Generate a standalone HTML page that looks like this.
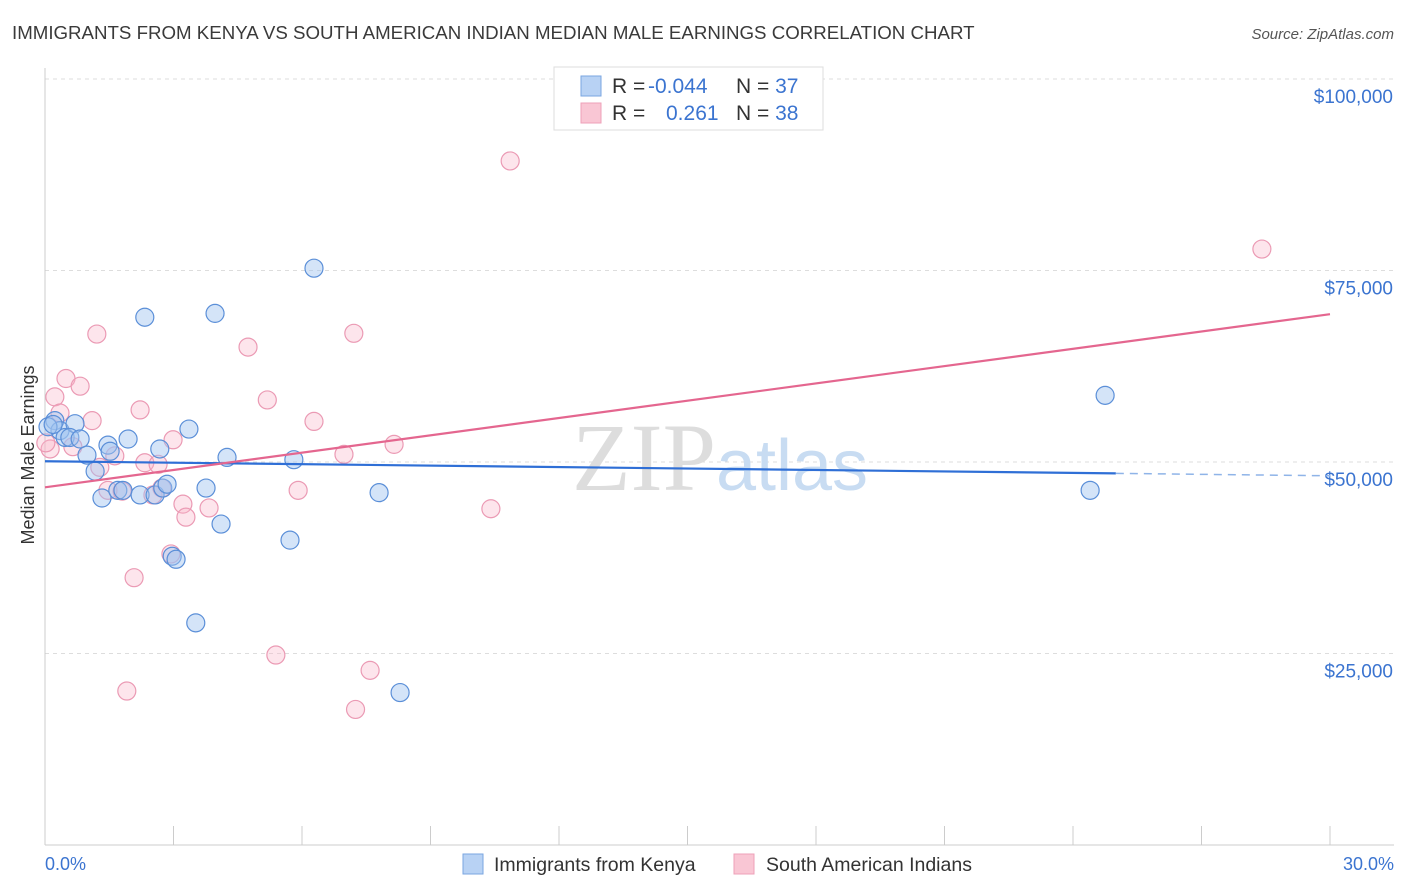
<!DOCTYPE html>
<html><head><meta charset="utf-8"><style>
body{margin:0;background:#fff;font-family:"Liberation Sans",sans-serif}
svg{display:block}
</style></head><body>
<svg width="1406" height="892">
<text x="12" y="39" font-size="18.7" fill="#3a3a3a">IMMIGRANTS FROM KENYA VS SOUTH AMERICAN INDIAN MEDIAN MALE EARNINGS CORRELATION CHART</text>
<text x="1394" y="39" font-size="15" fill="#555" font-style="italic" text-anchor="end">Source: ZipAtlas.com</text>
<g id="grid"></g>
<text x="720" y="490" font-size="96" fill="#ddd" text-anchor="middle" font-family="Liberation Serif,serif">ZIP<tspan fill="#c8dcf2" font-family="Liberation Sans,sans-serif" font-size="72">atlas</tspan></text>
<text transform="translate(34,455) rotate(-90)" font-size="18" fill="#333" text-anchor="middle">Median Male Earnings</text>
<text x="45" y="870" font-size="18" fill="#3b74d0">0.0%</text>
<text x="1394" y="870" font-size="18" fill="#3b74d0" text-anchor="end">30.0%</text>
<g id="pts"></g>
<g id="lines"></g>
<g>
<rect x="554" y="67" width="269" height="63" fill="#fff" stroke="#ddd"/>
<rect x="581" y="76" width="20" height="20" fill="#b8d2f4" stroke="#7aa6e0"/>
<rect x="581" y="103" width="20" height="20" fill="#f9c6d4" stroke="#eea0b8"/>
<text x="612" y="93" font-size="21" fill="#333">R = <tspan x="648" fill="#3b74d0">-0.044</tspan><tspan x="736">N = </tspan><tspan fill="#3b74d0">37</tspan></text>
<text x="612" y="120" font-size="21" fill="#333">R = <tspan x="666" fill="#3b74d0">0.261</tspan><tspan x="736">N = </tspan><tspan fill="#3b74d0">38</tspan></text>
</g>
<g>
<rect x="463" y="854" width="20" height="20" fill="#b8d2f4" stroke="#7aa6e0"/>
<text x="494" y="871" font-size="19.5" fill="#333">Immigrants from Kenya</text>
<rect x="734" y="854" width="20" height="20" fill="#f9c6d4" stroke="#eea0b8"/>
<text x="766" y="871" font-size="19.5" fill="#333">South American Indians</text>
</g>
</svg>
<script>
const yTicks=[25000,50000,75000,100000];
const yTickLabels=["$25,000","$50,000","$75,000","$100,000"];
const xTicks=[0,3,6,9,12,15,18,21,24,27,30];
const kenyaX=[0.23,0.35,0.47,0.7,0.58,0.82,0.98,1.17,1.33,1.47,1.52,1.7,1.82,1.94,2.22,2.33,2.57,2.68,2.75,2.85,2.97,3.06,3.36,3.52,3.76,3.97,4.11,4.25,5.72,5.81,6.28,7.8,8.29,24.4,24.75,0.07,0.19];
const kenyaY=[55400,54100,53200,55000,53200,53000,50900,48800,45300,52200,51400,46300,46300,53000,45700,68900,45700,51700,46600,47100,37700,37300,54300,29000,46600,69400,41900,50600,39800,50300,75300,46000,19900,46300,58700,54600,54900];
const sairX=[10.86,28.41,1.21,7.21,4.74,0.49,0.82,0.23,2.22,5.19,1.1,6.28,2.99,8.15,6.98,1.63,2.33,2.64,1.28,0.65,0.12,1.47,1.8,2.52,2.73,3.22,3.29,3.83,5.91,10.41,2.94,2.08,1.91,5.39,7.59,7.25,0.35,0.02];
const sairY=[89300,77800,66700,66800,65000,60900,59900,58500,56800,58100,55400,55300,52900,52300,51000,50800,49900,49700,49300,52000,51700,46300,46200,45700,46600,44500,42800,44000,46300,43900,38000,34900,20100,24800,22800,17700,56400,52500];
const kenyaFit=[50100,48200];
const sairFit=[46700,69300];
const X=v=>45+v/30*1285, Y=v=>845-v/100000*766;
const NS="http://www.w3.org/2000/svg";
function mk(t,a,p){const e=document.createElementNS(NS,t);for(const k in a)e.setAttribute(k,a[k]);p.appendChild(e);return e;}
const grid=document.getElementById('grid');
const topLine=mk('line',{x1:45,x2:1394,y1:Y(100000),y2:Y(100000),stroke:'#ddd','stroke-dasharray':'4 4'},grid);
yTicks.forEach((v,i)=>{
 const l=mk('line',{x1:45,x2:1394,y1:Y(v),y2:Y(v),stroke:'#ddd','stroke-dasharray':'4 4'},grid);
 
 
 const t=mk('text',{x:1393,y:Y(v)+24,'font-size':19,fill:'#3b74d0','text-anchor':'end'},grid);
 t.textContent=yTickLabels[i];
 
 
});
mk('line',{x1:45,x2:45,y1:68,y2:845,stroke:'#ccc'},grid);
mk('line',{x1:45,x2:1394,y1:845,y2:845,stroke:'#ccc'},grid);
xTicks.forEach(v=>{
 const l=mk('line',{x1:X(v),x2:X(v),y1:826,y2:845,stroke:'#ccc'},grid);
 
 
});
const pts=document.getElementById('pts');
sairX.forEach((x,i)=>{
 const c=mk('circle',{cx:X(x),cy:Y(sairY[i]),r:9,fill:'rgba(248,180,200,0.35)',stroke:'#eb9ab4','stroke-width':1.2},pts);
 
 
});
kenyaX.forEach((x,i)=>{
 const c=mk('circle',{cx:X(x),cy:Y(kenyaY[i]),r:9,fill:'rgba(160,196,240,0.45)',stroke:'#5b8fd8','stroke-width':1.2},pts);
 
 
});
const lines=document.getElementById('lines');
const ky=x=>kenyaFit[0]+(kenyaFit[1]-kenyaFit[0])*x/30;
const l1=mk('line',{x1:X(0),y1:Y(ky(0)),x2:X(25),y2:Y(ky(25)),stroke:'#2f6fd6','stroke-width':2.2},lines);


const l2=mk('line',{x1:X(25),y1:Y(ky(25)),x2:X(30),y2:Y(ky(30)),stroke:'#8fb4e8','stroke-width':1.5,'stroke-dasharray':'8 6'},lines);


const l3=mk('line',{x1:X(0),y1:Y(sairFit[0]),x2:X(30),y2:Y(sairFit[1]),stroke:'#e4668f','stroke-width':2.2},lines);


</script>
</body></html>
